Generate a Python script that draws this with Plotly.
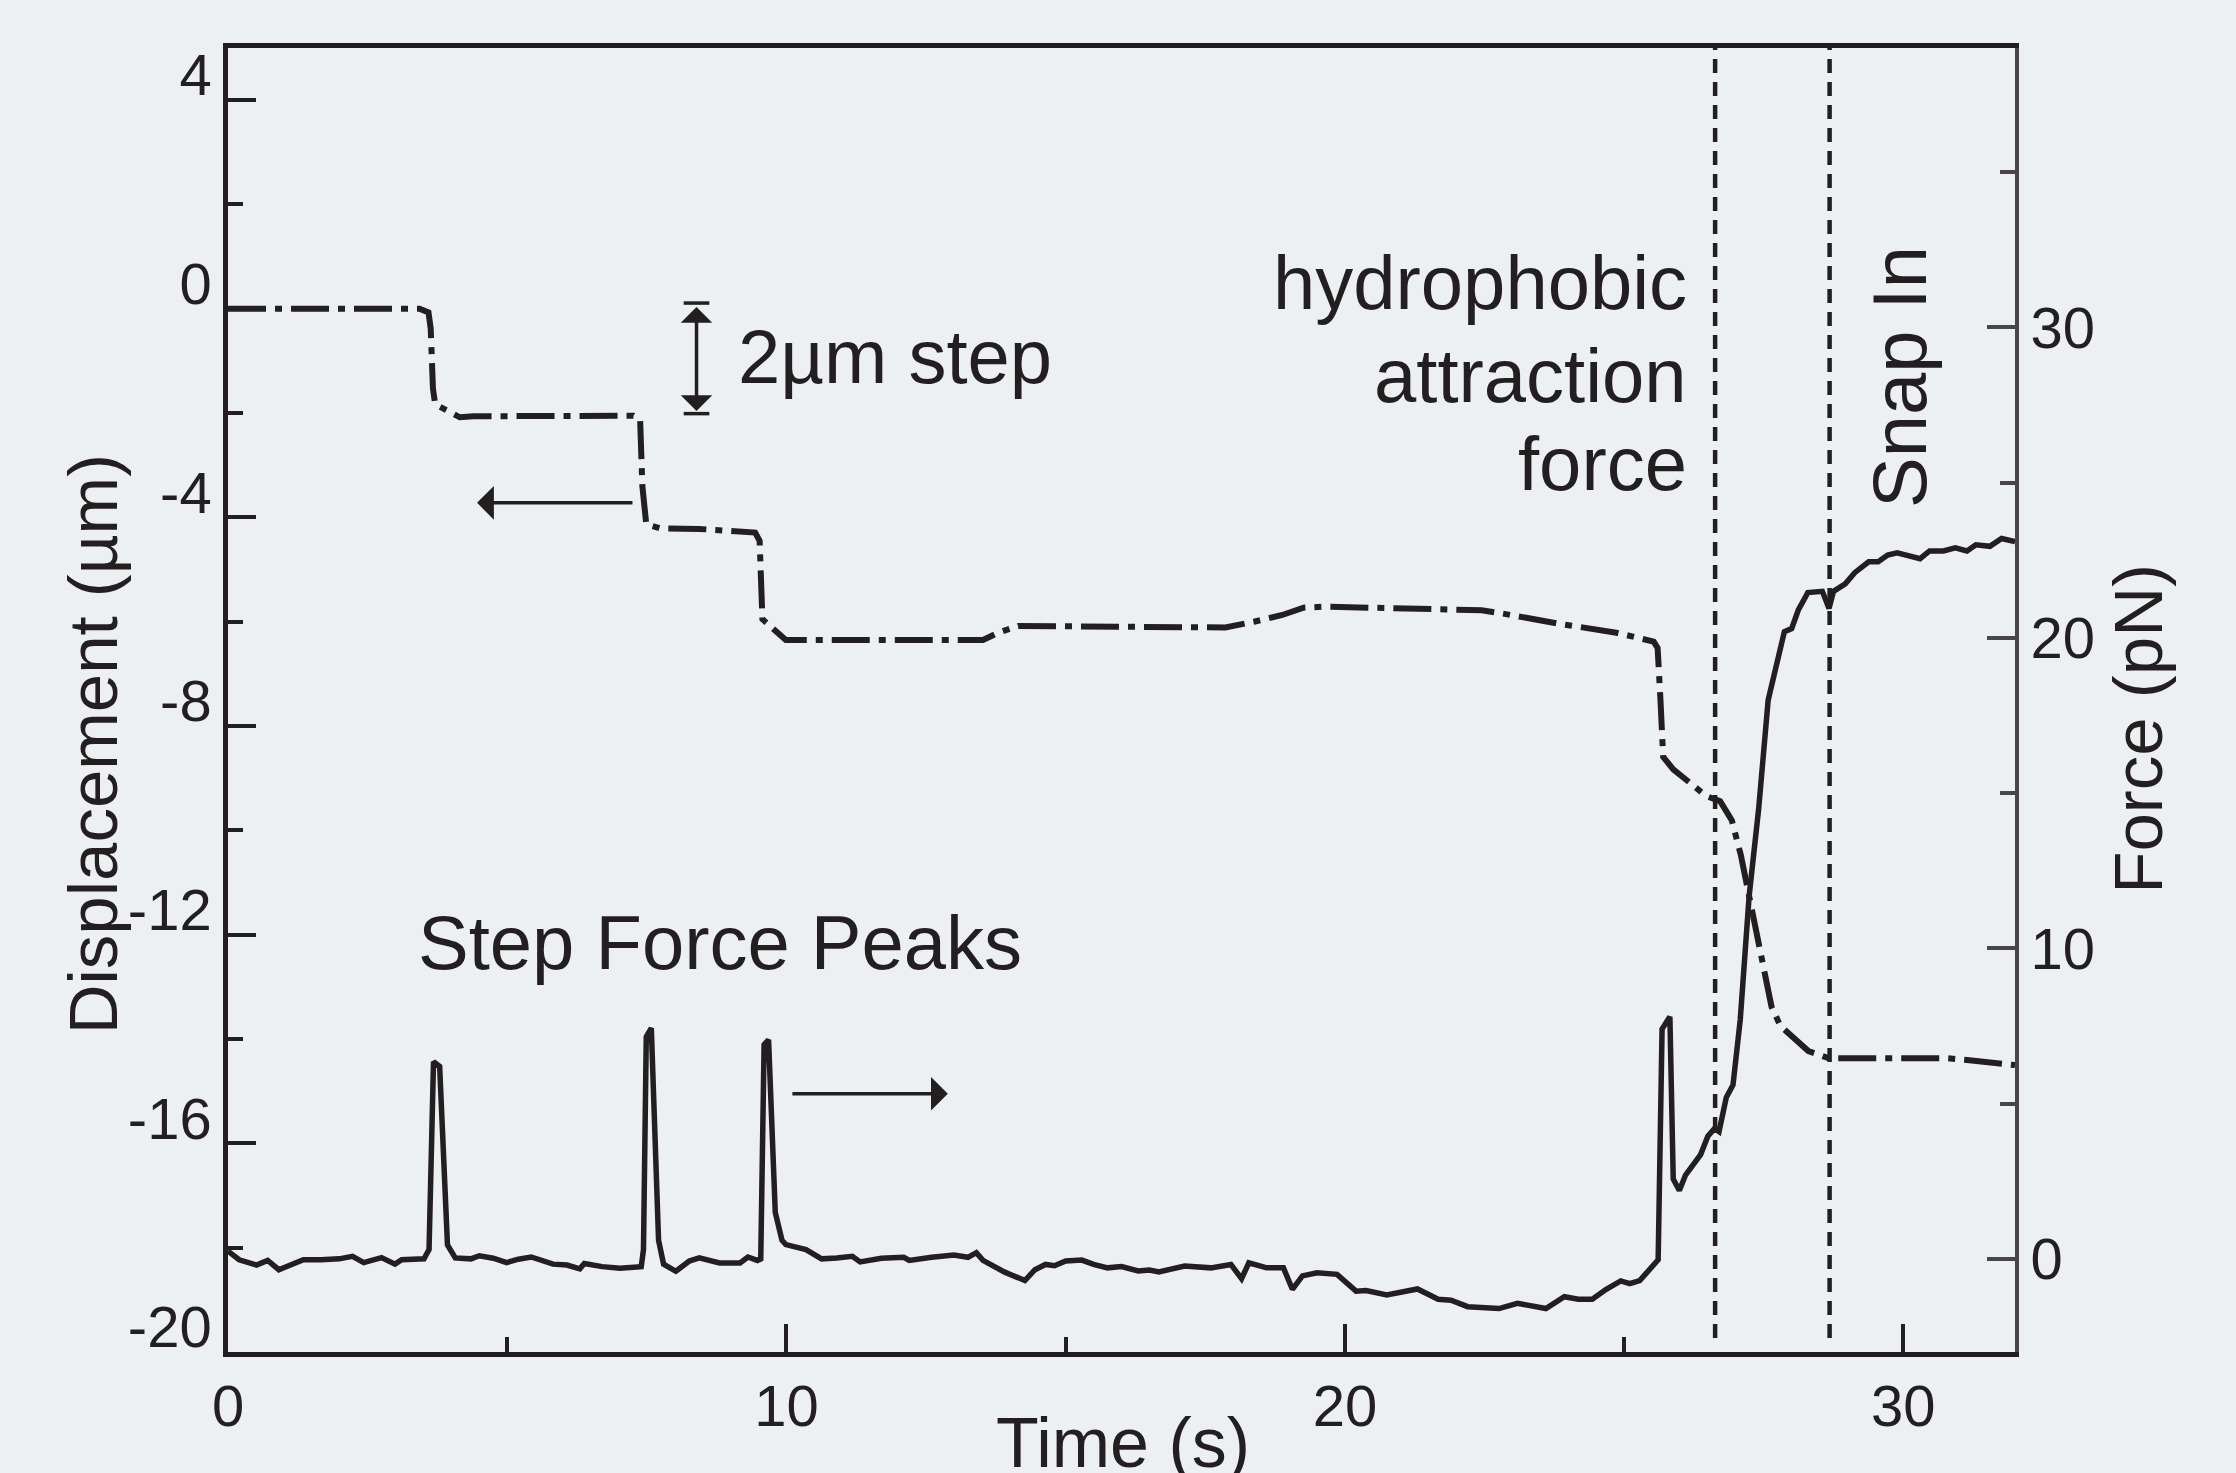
import plotly.graph_objects as go

# ---------------- data ----------------
disp_t = [0.00, 3.43, 3.59, 3.63, 3.67, 3.71, 4.15, 4.40, 7.26, 7.38, 7.42, 7.49, 7.74, 8.44,
          9.44, 9.52, 9.57, 9.70, 9.99, 13.52, 13.77, 14.15, 17.86, 18.37, 18.88, 19.26, 19.64,
          22.45, 22.76, 23.85, 24.86, 25.53, 25.60, 25.65, 25.70, 25.88, 26.47, 26.72, 26.93,
          27.09, 27.30, 27.47, 27.64, 27.80, 28.30, 28.67, 30.80, 31.14, 31.90, 32.00]
disp_um = [0.00, 0.00, -0.07, -0.38, -1.53, -1.83, -2.08, -2.06, -2.05, -2.13, -3.40, -4.13, -4.21, -4.22,
           -4.29, -4.45, -5.95, -6.08, -6.35, -6.35, -6.22, -6.08, -6.11, -6.00, -5.87, -5.73, -5.71,
           -5.78, -5.83, -6.04, -6.21, -6.38, -6.50, -7.47, -8.59, -8.83, -9.34, -9.44, -9.81,
           -10.47, -11.60, -12.44, -13.38, -13.75, -14.23, -14.37, -14.37, -14.40, -14.48, -14.50]

force_t = [0.00, 0.20, 0.51, 0.71, 0.91, 1.10, 1.35, 1.67, 1.99, 2.23, 2.43, 2.75, 2.99, 3.11, 3.51,
           3.60, 3.68, 3.79, 3.93, 4.07, 4.35, 4.50, 4.75, 4.99, 5.20, 5.43, 5.62, 5.82, 6.07, 6.30,
           6.38, 6.70, 7.02, 7.40, 7.44, 7.49, 7.58, 7.71, 7.80, 8.02, 8.26, 8.44, 8.80, 9.17, 9.31,
           9.48, 9.54, 9.60, 9.68, 9.80, 9.92, 9.99, 10.35, 10.63, 10.90, 11.18, 11.32, 11.70, 12.10,
           12.20, 12.60, 13.00, 13.25, 13.40, 13.52, 13.64, 13.90, 14.27, 14.45, 14.64, 14.80, 15.00,
           15.29, 15.50, 15.75, 16.00, 16.30, 16.50, 16.67, 17.13, 17.60, 17.96, 18.15, 18.28, 18.60,
           18.90, 19.06, 19.24, 19.50, 19.86, 20.20, 20.38, 20.75, 21.30, 21.67, 21.90, 22.20, 22.76,
           23.09, 23.60, 23.93, 24.18, 24.43, 24.68, 24.94, 25.10, 25.28, 25.61, 25.68, 25.82, 25.88,
           25.99, 26.10, 26.37, 26.50, 26.62, 26.70, 26.83, 26.95, 27.08, 27.24, 27.41, 27.58, 27.87,
           28.00, 28.12, 28.25, 28.29, 28.55, 28.67, 28.75, 28.96, 29.13, 29.38, 29.55, 29.72, 29.89,
           30.14, 30.30, 30.47, 30.72, 30.93, 31.14, 31.30, 31.55, 31.76, 32.00]
force_pn = [0.25, -0.03, -0.20, -0.05, -0.35, -0.20, -0.03, -0.03, 0.00, 0.08, -0.12, 0.04, -0.17, -0.03, 0.00,
            0.30, 6.35, 6.20, 0.45, 0.03, 0.00, 0.10, 0.02, -0.12, -0.01, 0.06, -0.05, -0.17, -0.20, -0.32,
            -0.15, -0.25, -0.30, -0.25, 0.30, 7.15, 7.43, 0.60, -0.17, -0.40, -0.07, 0.03, -0.13, -0.13, 0.06,
            -0.05, 0.00, 6.90, 7.05, 1.50, 0.60, 0.46, 0.30, 0.00, 0.03, 0.08, -0.10, 0.02, 0.05,
            -0.05, 0.05, 0.12, 0.05, 0.20, -0.05, -0.16, -0.42, -0.70, -0.35, -0.18, -0.22, -0.07,
            -0.04, -0.18, -0.29, -0.25, -0.39, -0.36, -0.42, -0.23, -0.29, -0.18, -0.64, -0.13, -0.29,
            -0.29, -0.98, -0.55, -0.45, -0.50, -1.04, -1.02, -1.16, -0.97, -1.30, -1.33, -1.54, -1.60,
            -1.43, -1.60, -1.22, -1.30, -1.30, -0.98, -0.71, -0.80, -0.70, -0.03, 7.40, 7.80, 2.57,
            2.20, 2.70, 3.36, 3.95, 4.20, 4.10, 5.20, 5.60, 7.70, 11.70, 14.50, 18.00, 20.20,
            20.30, 20.90, 21.40, 21.46, 21.50, 20.95, 21.50, 21.74, 22.10, 22.45, 22.45, 22.67, 22.74,
            22.65, 22.55, 22.80, 22.80, 22.90, 22.80, 23.00, 22.95, 23.20, 23.10]

event_times = [26.63, 28.68]          # hydrophobic attraction onset, snap-in
x_ticks = [0, 10, 20, 30]
disp_ticks = [-20, -16, -12, -8, -4, 0, 4]
force_ticks = [0, 10, 20, 30]
hydro_lines = ["hydrophobic", "attraction", "force"]

INK = "#231f20"
FONT = "Liberation Sans, Arial, Helvetica, sans-serif"

fig = go.Figure()
fig.add_trace(go.Scatter(x=disp_t, y=disp_um, mode="lines", yaxis="y",
                         line=dict(color=INK, width=6, dash="38px,9px,7px,9px"),
                         showlegend=False, hoverinfo="skip"))
fig.add_trace(go.Scatter(x=force_t, y=force_pn, mode="lines", yaxis="y2",
                         line=dict(color=INK, width=5.5), showlegend=False, hoverinfo="skip"))

# vertical dashed event lines
for t in event_times:
    fig.add_shape(type="line", xref="x", yref="y2", x0=t, x1=t, y0=-2.55, y1=39,
                  line=dict(color=INK, width=4.5, dash="14px,9px"))

ann = []
# hydrophobic attraction force text (right aligned)
for i, s in enumerate(hydro_lines):
    ann.append(dict(text=s, xref="x", yref="y", x=26.17, y=[0.5, -1.27, -2.97][i],
                    xanchor="right", yanchor="middle", showarrow=False,
                    font=dict(size=76, color=INK, family=FONT)))
ann.append(dict(text="Snap In", xref="x", yref="y", x=29.93, y=-1.3, textangle=-90,
                xanchor="center", yanchor="middle", showarrow=False,
                font=dict(size=76, color=INK, family=FONT)))
ann.append(dict(text="2µm step", xref="x", yref="y", x=9.09, y=-0.92,
                xanchor="left", yanchor="middle", showarrow=False,
                font=dict(size=76, color=INK, family=FONT)))
ann.append(dict(text="Step Force Peaks", xref="x", yref="y2", x=3.37, y=10.2,
                xanchor="left", yanchor="middle", showarrow=False,
                font=dict(size=76, color=INK, family=FONT)))
# double arrow for the 2 µm step
ann.append(dict(text="", xref="x", yref="y", x=8.39, y=-2.0, axref="x", ayref="y", ax=8.39, ay=0.1,
                showarrow=True, arrowside="end+start", arrowhead=1, startarrowhead=1,
                arrowsize=1.5, startarrowsize=1.5, arrowwidth=3.5, arrowcolor=INK, standoff=2, startstandoff=2))
# left arrow (displacement axis)
ann.append(dict(text="", xref="x", yref="y", x=4.46, y=-3.72, axref="x", ayref="y", ax=7.27, ay=-3.72,
                showarrow=True, arrowhead=1, arrowsize=1.6, arrowwidth=3.5, arrowcolor=INK))
# right arrow (force axis)
ann.append(dict(text="", xref="x", yref="y2", x=12.89, y=5.32, axref="x", ayref="y2", ax=10.08, ay=5.32,
                showarrow=True, arrowhead=1, arrowsize=1.6, arrowwidth=3.5, arrowcolor=INK))
# axis titles
ann.append(dict(text="Displacement (µm)", xref="paper", yref="paper", x=0, y=0.466, xshift=-135,
                textangle=-90, showarrow=False, xanchor="center", yanchor="middle",
                font=dict(size=69, color=INK, family=FONT)))
ann.append(dict(text="Force (pN)", xref="paper", yref="paper", x=1, y=0.478, xshift=124,
                textangle=-90, showarrow=False, xanchor="center", yanchor="middle",
                font=dict(size=69, color=INK, family=FONT)))
ann.append(dict(text="Time (s)", xref="paper", yref="paper", x=0.501, y=0, yshift=-50,
                showarrow=False, xanchor="center", yanchor="top",
                font=dict(size=70, color=INK, family=FONT)))

# caps of the 2 µm double arrow
for yv in [0.11, -2.01]:
    fig.add_shape(type="line", xref="x", yref="y", x0=8.16, x1=8.62, y0=yv, y1=yv,
                  line=dict(color=INK, width=3.5))

fig.update_layout(
    width=2236, height=1473, autosize=False,
    margin=dict(l=228, r=221, t=48, b=121, pad=0),
    paper_bgcolor="#edf0f2", plot_bgcolor="rgba(0,0,0,0)",
    font=dict(family=FONT, color=INK, size=58),
    annotations=ann,
    xaxis=dict(range=[0, 32], showgrid=False, zeroline=False, showline=True, linecolor=INK, linewidth=4.5,
               mirror=True, ticks="inside", ticklen=28, tickwidth=3.5, tickcolor=INK,
               tickmode="array", tickvals=x_ticks, ticktext=[str(v) for v in x_ticks],
               tickfont=dict(size=58, color=INK),
               minor=dict(ticks="inside", ticklen=15, tickwidth=3.5, tickcolor=INK, dtick=5, tick0=0)),
    xaxis2=dict(range=[0, 32], overlaying="x", side="top", showgrid=False, zeroline=False,
                showline=False, ticks="inside", ticklen=12, tickwidth=3, tickcolor=INK,
                tickmode="linear", tick0=0, dtick=5, showticklabels=False),
    yaxis=dict(range=[-20, 5], showgrid=False, zeroline=False, showline=True, linecolor=INK, linewidth=4.5,
               ticks="inside", ticklen=28, tickwidth=3.5, tickcolor=INK,
               tickmode="array", tickvals=disp_ticks, ticktext=[str(v) for v in disp_ticks],
               tickfont=dict(size=58, color=INK), ticklabelshift=-25,
               minor=dict(ticks="inside", ticklen=15, tickwidth=3.5, tickcolor=INK, dtick=2, tick0=0)),
    yaxis2=dict(range=[-3, 39], overlaying="y", side="right", showgrid=False, zeroline=False,
                showline=True, linecolor="#4a4546", linewidth=4,
                ticks="inside", ticklen=28, tickwidth=3.5, tickcolor="#4a4546",
                tickmode="array", tickvals=force_ticks, ticktext=[str(v) for v in force_ticks],
                tickfont=dict(size=58, color=INK),
                minor=dict(ticks="inside", ticklen=15, tickwidth=3.5, tickcolor="#4a4546", dtick=5, tick0=0)),
)

fig.write_html("out.html", config={"displayModeBar": False},
               post_script="document.body.style.margin='0';document.body.style.overflow='hidden';")
